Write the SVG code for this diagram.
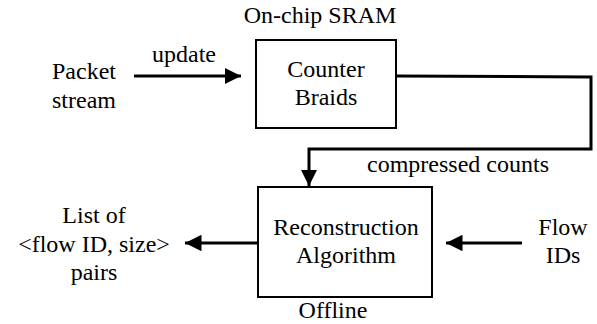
<svg xmlns="http://www.w3.org/2000/svg" width="597" height="324" viewBox="0 0 597 324">
  <style>
    .label { font-family: "Liberation Serif", "Times New Roman", serif; font-size: 24px; fill: #000; text-anchor: middle; }
    .box { fill: #fff; stroke: #000; stroke-width: 2; }
    .wire { fill: none; stroke: #000; stroke-width: 3; }
  </style>
  <defs>
    <marker id="arrow" viewBox="0 0 10 10" refX="10" refY="5" markerWidth="5.5" markerHeight="5.5" markerUnits="strokeWidth" orient="auto">
      <path d="M0,0 L10,5 L0,10 Z" fill="#000"/>
    </marker>
  </defs>
  <rect width="597" height="324" fill="#fff"/>

  <!-- connectors -->
  <g id="connectors">
    <line class="wire" x1="134" y1="76" x2="241" y2="76" marker-end="url(#arrow)"/>
    <polyline class="wire" points="396,76 591,77 591,149 309,149 309,186" marker-end="url(#arrow)"/>
    <line class="wire" x1="258" y1="243" x2="185" y2="243" marker-end="url(#arrow)"/>
    <line class="wire" x1="522" y1="243" x2="446" y2="243" marker-end="url(#arrow)"/>
    <text class="label" x="184" y="62">update</text>
    <text class="label" x="458" y="172">compressed counts</text>
  </g>

  <!-- source: packet stream -->
  <g id="packet-stream">
    <text class="label" x="84" y="79">Packet</text>
    <text class="label" x="84" y="108">stream</text>
  </g>

  <!-- on-chip counter structure -->
  <g id="counter-braids">
    <text class="label" x="320" y="23">On-chip SRAM</text>
    <rect class="box" x="256" y="40" width="140" height="88"/>
    <text class="label" x="326" y="77">Counter</text>
    <text class="label" x="326" y="105">Braids</text>
  </g>

  <!-- offline decoder -->
  <g id="reconstruction">
    <rect class="box" x="258" y="187" width="174" height="110"/>
    <text class="label" x="346" y="235">Reconstruction</text>
    <text class="label" x="346" y="263">Algorithm</text>
    <text class="label" x="333" y="318">Offline</text>
  </g>

  <!-- input: flow IDs -->
  <g id="flow-ids">
    <text class="label" x="563" y="235">Flow</text>
    <text class="label" x="563" y="263">IDs</text>
  </g>

  <!-- output list -->
  <g id="output-list">
    <text class="label" x="94" y="223">List of</text>
    <text class="label" x="94" y="252">&lt;flow ID, size&gt;</text>
    <text class="label" x="94" y="280">pairs</text>
  </g>
</svg>
